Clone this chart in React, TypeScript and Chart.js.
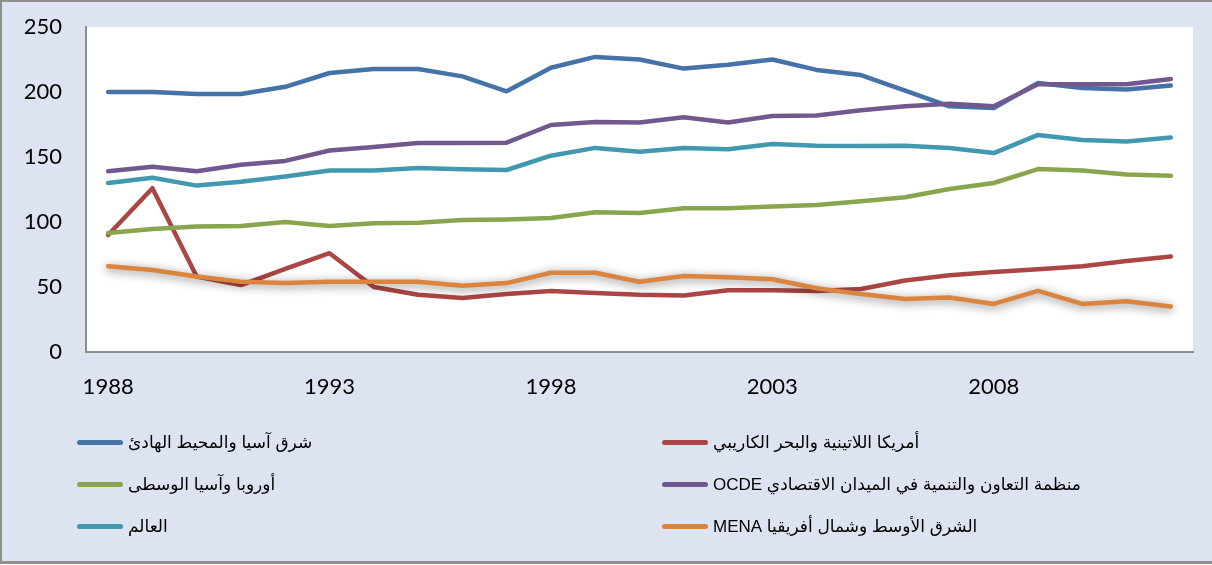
import React, { useEffect, useRef } from "react";
import { Chart, registerables } from "chart.js";

Chart.register(...registerables);

const years = [
  "1988", "1989", "1990", "1991", "1992", "1993", "1994", "1995", "1996", "1997",
  "1998", "1999", "2000", "2001", "2002", "2003", "2004", "2005", "2006", "2007",
  "2008", "2009", "2010", "2011", "2012",
];

const eastAsia = [200, 200, 198.5, 198.5, 204, 214.6, 217.7, 217.7, 212, 200.5, 218.7, 227, 225, 218, 221, 225, 217, 213, 201, 189, 187.7, 207, 203, 202, 205];
const latinAmerica = [90, 126, 58, 51.5, 64, 76, 50, 44, 41.5, 44.6, 47, 45.4, 44, 43.5, 47.5, 47.5, 47, 48.5, 55, 59, 61.5, 63.6, 66, 70, 73.5];
const europe = [91.5, 94.6, 96.5, 97, 100, 97, 99, 99.5, 101.5, 102, 103, 107.5, 107, 110.5, 110.5, 112, 113, 116, 119, 125.4, 130, 140.7, 139.6, 136.5, 135.5];
const ocde = [139, 142.5, 139, 144, 147, 155, 157.7, 160.7, 160.7, 161, 174.6, 177, 176.5, 180.5, 176.5, 181.5, 182, 186, 189, 191, 189, 206, 206, 206, 210];
const world = [130, 134, 128, 131, 135, 139.6, 139.6, 141.5, 140.5, 140, 151, 157, 154, 157, 156, 160, 158.7, 158.5, 158.7, 157, 153, 167, 163, 162, 165];
const mena = [66, 63, 58, 54, 53, 54, 54, 54, 51, 53, 61, 61, 54, 58.5, 57.5, 56, 49, 44.6, 40.8, 42, 37, 47, 37, 39, 35];

const seriesLabels = [
  "شرق آسيا والمحيط الهادئ",
  "أمريكا اللاتينية والبحر الكاريبي",
  "أوروبا وآسيا الوسطى",
  "منظمة التعاون والتنمية في الميدان الاقتصادي OCDE",
  "العالم",
  "الشرق الأوسط وشمال أفريقيا MENA",
];
const seriesData = [eastAsia, latinAmerica, europe, ocde, world, mena];
const seriesColors = ["#4572A7", "#AA4643", "#89A54E", "#71588F", "#4198AF", "#DB843D"];
const seriesOrder = [6, 5, 4, 2, 3, 1];

const yTicks = [0, 50, 100, 150, 200, 250];

const plotBg = {
  id: "plotBg",
  beforeDraw(chart: any) {
    const { ctx, chartArea } = chart;
    ctx.save();
    ctx.fillStyle = "#ffffff";
    ctx.fillRect(chartArea.left, chartArea.top, chartArea.right - chartArea.left, chartArea.bottom - chartArea.top);
    ctx.restore();
  },
};

const shadowPlugin = {
  id: "lineShadow",
  beforeDatasetDraw(chart: any, args: any) {
    if (args.index === 5) {
      const ctx = chart.ctx;
      ctx.save();
      ctx.shadowColor = "rgba(0,0,0,0.5)";
      ctx.shadowBlur = 10;
      ctx.shadowOffsetX = 0;
      ctx.shadowOffsetY = 2;
    }
  },
  afterDatasetDraw(chart: any, args: any) {
    if (args.index === 5) {
      chart.ctx.restore();
    }
  },
};

export default function App() {
  const canvasRef = useRef<HTMLCanvasElement | null>(null);

  useEffect(() => {
    const canvas = canvasRef.current;
    if (!canvas) return;
    const chart = new Chart(canvas, {
      type: "line",
      data: {
        labels: years,
        datasets: seriesData.map((d, i) => ({
          label: seriesLabels[i],
          data: d,
          borderColor: seriesColors[i],
          backgroundColor: seriesColors[i],
          borderWidth: 4.5,
          pointRadius: 0,
          tension: 0,
          borderJoinStyle: "round" as const,
          borderCapStyle: "round" as const,
          order: seriesOrder[i],
          fill: false,
        })),
      },
      options: {
        responsive: false,
        animation: false,
        layout: { padding: { left: 0, top: 27, right: 19, bottom: 153 } },
        plugins: {
          legend: { display: false },
          tooltip: { enabled: false },
        },
        scales: {
          x: {
            type: "category",
            offset: true,
            grid: { display: false, drawTicks: true, tickLength: 22 },
            border: { display: true, color: "#8c8c8c", width: 2 },
            ticks: {
              autoSkip: false,
              maxRotation: 0,
              padding: 0,
              color: "#000000",
              font: { family: "Lato, 'Open Sans', sans-serif", size: 22 },
              callback: (_v: any, idx: number) => (idx % 5 === 0 ? years[idx] : null),
            },
            afterFit: (scale: any) => {
              scale.height = 60;
            },
          },
          y: {
            min: 0,
            max: 250,
            afterBuildTicks: (scale: any) => {
              scale.ticks = yTicks.map((v) => ({ value: v }));
            },
            grid: { display: false, drawTicks: true, tickLength: 24 },
            border: { display: true, color: "#8c8c8c", width: 2 },
            ticks: {
              padding: 0,
              color: "#000000",
              font: { family: "Lato, 'Open Sans', sans-serif", size: 22 },
            },
            afterFit: (scale: any) => {
              scale.width = 86;
            },
          },
        },
      },
      plugins: [plotBg, shadowPlugin],
    });
    return () => chart.destroy();
  }, []);

  const colLeft = [77, 662];
  const rowCenter = [442, 484, 526];

  return (
    <div
      style={{
        position: "absolute",
        left: 0,
        top: 0,
        width: 1212,
        height: 564,
        background: "#dde3f0",
        boxShadow: "inset 2px 2px 0 #8f8f8f, inset 0 -3px 0 #8f8f8f",
        overflow: "hidden",
      }}
    >
      <canvas
        ref={canvasRef}
        width={1212}
        height={565}
        style={{ position: "absolute", left: 0, top: 0, width: 1212, height: 565 }}
      />
      {seriesLabels.map((lab, i) => {
        const col = i % 2;
        const row = Math.floor(i / 2);
        return (
          <div
            key={i}
            style={{
              position: "absolute",
              left: colLeft[col],
              top: rowCenter[row] - 15,
              height: 30,
              display: "flex",
              alignItems: "center",
              whiteSpace: "nowrap",
            }}
          >
            <span
              style={{
                display: "inline-block",
                width: 46,
                height: 5,
                borderRadius: 3,
                background: seriesColors[i],
                marginRight: 5,
              }}
            />
            <span
              dir="rtl"
              style={{
                fontFamily: "'Liberation Sans', 'DejaVu Sans', sans-serif",
                fontSize: 17,
                color: "#000",
              }}
            >
              {lab}
            </span>
          </div>
        );
      })}
    </div>
  );
}
